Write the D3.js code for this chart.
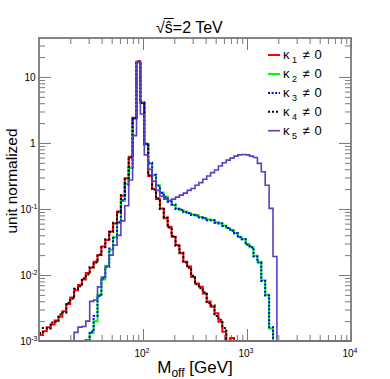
<!DOCTYPE html>
<html><head><meta charset="utf-8">
<script src="https://cdn.jsdelivr.net/npm/d3@7"></script>
<style>
body{margin:0;background:#fff;}
svg{display:block;font-family:"Liberation Sans",Arial,Helvetica,sans-serif;}
</style>
</head><body>
<svg id="chart" width="390" height="379"></svg>
<script>
// ---- binning (log-uniform bins in M_off) ----
const nBins = 80;
const massMin = 10, massMax = 10000;

// ---- series values (unit normalized), one value per bin ----
const kappa1 = [0.00123,0.00141,0.00162,0.00178,0.00204,0.00234,0.00282,0.00363,0.00457,0.00589,
  0.00708,0.00851,0.0107,0.0129,0.0158,0.0200,0.0269,0.0339,0.0457,0.0603,
  0.0912,0.158,0.292,0.617,2.40,17.1,4.08,0.955,0.316,0.200,
  0.141,0.102,0.0724,0.0537,0.0380,0.0285,0.0214,0.0158,0.0135,0.00933,
  0.00741,0.00661,0.00525,0.00398,0.00331,0.00263,0.00195,0.00138,0,0.00111,
  0,0,0,0,0,0,0,0,0,0, 0,0,0,0,0,0,0,0,0,0, 0,0,0,0,0,0,0,0,0,0];
const kappa2 = [0,0,0,0,0,0,0,0,0,0,
  0,0,0.00104,0.00132,0.00200,0.00501,0.00851,0.0138,0.0240,0.0380,
  0.0617,0.132,0.240,0.417,2.34,16.9,4.12,0.977,0.490,0.324,
  0.229,0.178,0.155,0.132,0.115,0.102,0.0966,0.0912,0.0861,0.0822,
  0.0794,0.0759,0.0724,0.0692,0.0676,0.0631,0.0610,0.0562,0.0513,0.0479,
  0.0427,0.0380,0.0347,0.0295,0.0263,0.0195,0.0158,0.00832,0.00501,0.00155,
  0,0,0,0,0,0,0,0,0,0, 0,0,0,0,0,0,0,0,0,0];
const kappa3 = [0,0,0,0,0,0,0,0,0,0,
  0,0,0.00102,0.00138,0.00240,0.00479,0.00891,0.0132,0.0251,0.0363,
  0.0631,0.135,0.234,0.427,2.37,17.0,4.10,0.970,0.501,0.331,
  0.224,0.174,0.151,0.129,0.117,0.100,0.0977,0.0891,0.0871,0.0813,
  0.0794,0.0741,0.0724,0.0676,0.0676,0.0617,0.0603,0.0550,0.0513,0.0468,
  0.0427,0.0372,0.0347,0.0288,0.0263,0.0191,0.0155,0.00813,0.00490,0.00162,
  0,0,0,0,0,0,0,0,0,0, 0,0,0,0,0,0,0,0,0,0];
const kappa4 = [0.00132,0.00158,0.00155,0.00191,0.00195,0.00251,0.00269,0.00380,0.00437,0.00617,
  0.00676,0.00891,0.0102,0.0132,0.0155,0.0204,0.0263,0.0347,0.0447,0.0617,
  0.0891,0.162,0.288,0.603,2.37,17.2,4.03,0.944,0.324,0.195,
  0.145,0.100,0.0741,0.0525,0.0389,0.0275,0.0219,0.0155,0.0129,0.00977,
  0.00724,0.00631,0.00550,0.00372,0.00347,0.00240,0.00209,0.00158,0,0,
  0,0,0,0,0,0,0,0,0,0, 0,0,0,0,0,0,0,0,0,0, 0,0,0,0,0,0,0,0,0,0];
const kappa5 = [0,0,0,0,0,0,0,0,0,0.00135,
  0.00162,0.00166,0.00200,0.00398,0.00417,0.00661,0.00933,0.0135,0.0200,0.0282,
  0.0398,0.0661,0.112,0.275,1.29,16.6,2.75,0.661,0.398,0.263,
  0.191,0.155,0.141,0.135,0.141,0.151,0.162,0.174,0.191,0.204,
  0.229,0.251,0.282,0.316,0.355,0.389,0.447,0.501,0.550,0.589,
  0.631,0.661,0.668,0.661,0.631,0.603,0.490,0.367,0.229,0.102,
  0.0191,0,0,0,0,0,0,0,0,0, 0,0,0,0,0,0,0,0,0,0];

// ---- legend / tick labels ----
const legendSubscripts = ["1","2","3","4","5"];
const xTickValues = [100, 1000, 10000];
const xTickExponents = ["2","3","4"];
const yTickValues = [0.001, 0.01, 0.1, 1, 10];
const yTickBases = ["10","10","10","1","10"];
const yTickExponents = ["-3","-2","-1","",""];
const titleText = "=2 TeV";
const xTitleMain = "M", xTitleSub = "off", xTitleRest = " [GeV]";
const yTitle = "unit normalized";

// ---- layout ----
const frame = {left: 39, right: 351, top: 38, bottom: 341};
const yMin = 0.001, yMax = 38.9;

const svg = d3.select("#chart");
const x = d3.scaleLog().domain([massMin, massMax]).range([frame.left, frame.right]);
const y = d3.scaleLog().domain([yMin, yMax]).range([frame.bottom, frame.top]);

const edges = d3.range(nBins + 1).map(i => massMin * Math.pow(massMax / massMin, i / nBins));

const series = [
  {values: kappa1, color: "#ff0000", dash: null, width: 2},
  {values: kappa2, color: "#00ff00", dash: null, width: 2},
  {values: kappa3, color: "#0000ff", dash: "2,1.6", width: 2},
  {values: kappa4, color: "#000000", dash: "2,2", width: 2},
  {values: kappa5, color: "#5b3cc4", dash: null, width: 1.6}
];

svg.append("defs").append("clipPath").attr("id", "clip")
  .append("rect").attr("x", frame.left).attr("y", frame.top)
  .attr("width", frame.right - frame.left).attr("height", frame.bottom - frame.top + 1.5);

// minor ticks
const minorX = [];
for (let e = 1; e <= 3; e++) for (let k = 2; k <= 9; k++) minorX.push(k * Math.pow(10, e));
const minorY = [];
for (let e = -3; e <= 1; e++) for (let k = 2; k <= 9; k++) { const v = k * Math.pow(10, e); if (v < yMax) minorY.push(v); }

const tickColor = "#7a7a7a";
function styleAxis(g) {
  g.select(".domain").remove();
  g.selectAll("line").attr("stroke", tickColor).attr("stroke-width", 1);
  g.selectAll("text").remove();
}
svg.append("g").attr("transform", `translate(0,${frame.bottom})`)
  .call(d3.axisBottom(x).tickValues(xTickValues).tickSize(-12).tickFormat("")).call(styleAxis);
svg.append("g").attr("transform", `translate(0,${frame.bottom})`)
  .call(d3.axisBottom(x).tickValues(minorX).tickSize(-6).tickFormat("")).call(styleAxis);
svg.append("g").attr("transform", `translate(0,${frame.top})`)
  .call(d3.axisTop(x).tickValues(xTickValues).tickSize(-12).tickFormat("")).call(styleAxis);
svg.append("g").attr("transform", `translate(0,${frame.top})`)
  .call(d3.axisTop(x).tickValues(minorX).tickSize(-6).tickFormat("")).call(styleAxis);
svg.append("g").attr("transform", `translate(${frame.left},0)`)
  .call(d3.axisLeft(y).tickValues(yTickValues).tickSize(-12).tickFormat("")).call(styleAxis);
svg.append("g").attr("transform", `translate(${frame.left},0)`)
  .call(d3.axisLeft(y).tickValues(minorY).tickSize(-6).tickFormat("")).call(styleAxis);
svg.append("g").attr("transform", `translate(${frame.right},0)`)
  .call(d3.axisRight(y).tickValues(yTickValues).tickSize(-12).tickFormat("")).call(styleAxis);
svg.append("g").attr("transform", `translate(${frame.right},0)`)
  .call(d3.axisRight(y).tickValues(minorY).tickSize(-6).tickFormat("")).call(styleAxis);

// histograms
const line = d3.line().x(d => x(d[0])).y(d => y(Math.min(yMax, Math.max(yMin, d[1]))));
const gH = svg.append("g").attr("clip-path", "url(#clip)");
series.forEach(s => {
  const pts = [];
  s.values.forEach((v, i) => { pts.push([edges[i], v]); pts.push([edges[i + 1], v]); });
  gH.append("path").attr("d", line(pts)).attr("fill", "none")
    .attr("stroke", s.color).attr("stroke-width", s.width)
    .attr("stroke-dasharray", s.dash).attr("stroke-linejoin", "miter");
});

// frame
svg.append("rect").attr("x", frame.left).attr("y", frame.top)
  .attr("width", frame.right - frame.left).attr("height", frame.bottom - frame.top)
  .attr("fill", "none").attr("stroke", tickColor).attr("stroke-width", 1.8);

// x tick labels
xTickValues.forEach((v, i) => {
  const t = svg.append("text").attr("x", x(v) - 1).attr("y", 357)
    .attr("text-anchor", "middle").attr("font-size", 10).attr("fill", "#000");
  t.append("tspan").text("10");
  t.append("tspan").attr("dy", -4).attr("font-size", 7).text(xTickExponents[i]);
});
// y tick labels
yTickValues.forEach((v, i) => {
  const hasExp = yTickExponents[i] !== "";
  const t = svg.append("text").attr("x", hasExp ? 37.5 : 35.5).attr("y", y(v) + 4)
    .attr("text-anchor", "end").attr("font-size", 10).attr("fill", "#000");
  t.append("tspan").text(yTickBases[i]);
  if (hasExp) t.append("tspan").attr("dy", -4).attr("font-size", 7).text(yTickExponents[i]);
});

// axis titles
const xt = svg.append("text").attr("x", (frame.left + frame.right) / 2).attr("y", 373)
  .attr("text-anchor", "middle").attr("font-size", 17).attr("fill", "#000");
xt.append("tspan").text(xTitleMain);
xt.append("tspan").attr("dy", 4).attr("font-size", 12).text(xTitleSub);
xt.append("tspan").attr("dy", -4).text(xTitleRest);

svg.append("text").attr("transform", "translate(17,181) rotate(-90)")
  .attr("text-anchor", "middle").attr("font-size", 15.5).attr("fill", "#000").text(yTitle);

// title: sqrt(s-hat)=2 TeV
const tg = svg.append("g");
const sq = tg.append("text").attr("x", 156).attr("y", 33).attr("font-size", 16).attr("fill", "#000");
sq.append("tspan").text("\u221A");
sq.append("tspan").text("\u015D");
sq.append("tspan").text(titleText);
const node = sq.node();
const s0 = node.getStartPositionOfChar(1).x, s1 = node.getEndPositionOfChar(1).x;
tg.append("line").attr("x1", s0 - 1).attr("x2", s1 + 1).attr("y1", 18.5).attr("y2", 18.5)
  .attr("stroke", "#000").attr("stroke-width", 1);

// legend
const legY = [55, 74, 93, 111.7, 130.7];
series.forEach((s, i) => {
  svg.append("line").attr("x1", 268).attr("x2", 280).attr("y1", legY[i]).attr("y2", legY[i])
    .attr("stroke", s.color).attr("stroke-width", s.width).attr("stroke-dasharray", s.dash);
  const t = svg.append("text").attr("y", legY[i] + 4.3).attr("font-size", 13).attr("fill", "#000");
  t.append("tspan").attr("x", 283).text("\u03BA");
  t.append("tspan").attr("x", 292).attr("dy", 4).attr("font-size", 9).text(legendSubscripts[i]);
  t.append("tspan").attr("x", 302.5).attr("dy", -4).text("\u2260");
  t.append("tspan").attr("x", 314.5).text("0");
});
</script>
</body></html>
